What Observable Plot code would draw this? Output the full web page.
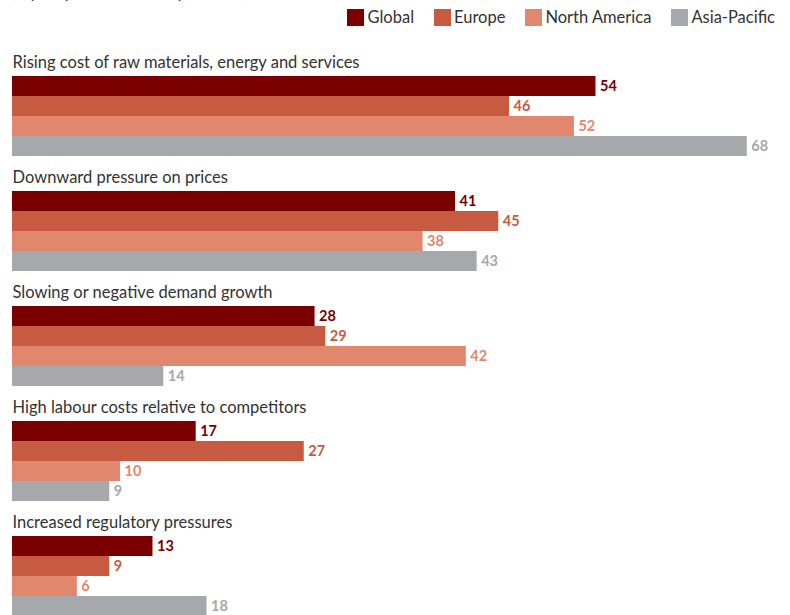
<!DOCTYPE html>
<html>
<head>
<meta charset="utf-8">
<script src="https://cdn.jsdelivr.net/npm/d3@7"></script>
<script src="https://cdn.jsdelivr.net/npm/@observablehq/plot@0.6"></script>
<style>
  html, body { margin: 0; padding: 0; background: #fff; }
  body { width: 790px; height: 615px; overflow: hidden; font-family: Lato, "Noto Sans", sans-serif; color: #333; }
  #head { position: relative; height: 41px; overflow: hidden; }
  #sub { position: absolute; left: 12px; top: -17px; font-size: 16px; line-height: 18px; color: #333; white-space: nowrap; }
  #legend { position: absolute; right: 15px; top: 8px; display: flex; align-items: center; font-size: 16.5px; line-height: 18px; color: #333; white-space: nowrap; }
  .item { display: flex; align-items: center; margin-left: 20px; white-space: nowrap; }
  .sw { width: 17px; height: 17px; margin-right: 3px; flex: none; }
</style>
</head>
<body>
<div id="head">
  <div id="sub">(top responses, % of respondents)</div>
  <div id="legend"></div>
</div>
<div id="chart"></div>
<script>
const categories = [
  "Rising cost of raw materials, energy and services",
  "Downward pressure on prices",
  "Slowing or negative demand growth",
  "High labour costs relative to competitors",
  "Increased regulatory pressures"
];
const series = ["Global", "Europe", "North America", "Asia-Pacific"];
const globalValues = [54, 41, 28, 17, 13];
const europeValues = [46, 45, 29, 27, 9];
const northAmericaValues = [52, 38, 42, 10, 6];
const asiaPacificValues = [68, 43, 14, 9, 18];
const colors = ["#7a0000", "#c65b42", "#e0876d", "#a7a8ab"];

const valuesBySeries = [globalValues, europeValues, northAmericaValues, asiaPacificValues];
const rows = categories.flatMap((c, i) =>
  series.map((s, j) => ({category: c, series: s, value: valuesBySeries[j][i]}))
);

const legend = document.getElementById("legend");
series.forEach((s, j) => {
  const it = document.createElement("div");
  it.className = "item";
  it.innerHTML = `<div class="sw" style="background:${colors[j]}"></div><span>${s}</span>`;
  legend.appendChild(it);
});

const chart = Plot.plot({
  width: 790,
  height: 575,
  marginLeft: 12,
  marginRight: 0,
  marginTop: 0,
  marginBottom: 0,
  style: {fontFamily: "Lato, 'Noto Sans', sans-serif", background: "#fff"},
  x: {domain: [0, 72], axis: null},
  y: {domain: series, axis: null, padding: 0, insetTop: 35},
  fy: {domain: categories, axis: null, padding: 0},
  color: {domain: series, range: colors},
  marks: [
    Plot.barX(rows, {x: "value", y: "series", fy: "category", fill: "series"}),
    Plot.text(rows, {x: "value", y: "series", fy: "category", text: "value", dx: 4, textAnchor: "start", fill: "series", fontWeight: 700, fontSize: 14.5}),
    Plot.text(categories, {fy: d => d, text: d => d, frameAnchor: "top-left", textAnchor: "start", lineAnchor: "top", dy: 15, fontSize: 16.5, fill: "#333"})
  ]
});
document.getElementById("chart").appendChild(chart);
</script>
</body>
</html>
